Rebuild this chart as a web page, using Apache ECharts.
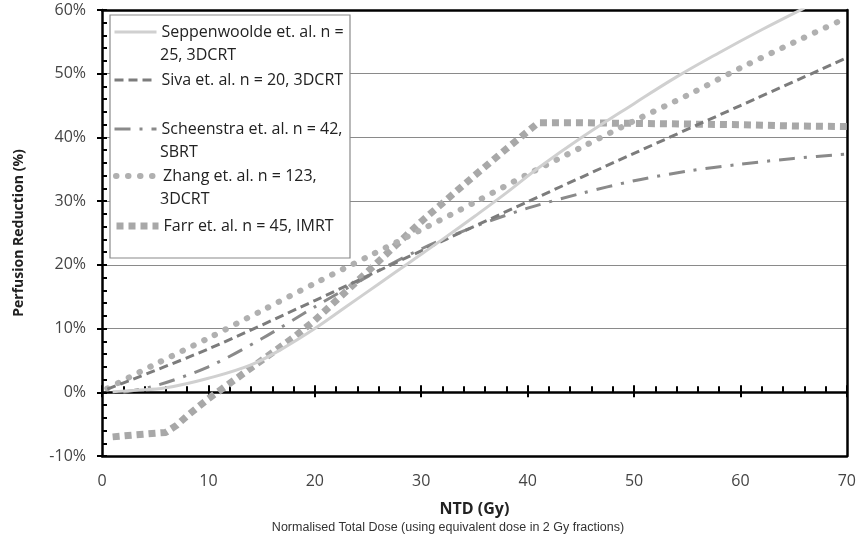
<!DOCTYPE html>
<html>
<head>
<meta charset="utf-8">
<script src="https://cdn.jsdelivr.net/npm/echarts@6/dist/echarts.min.js"></script>
<style>
  html, body { margin:0; padding:0; background:#fff; }
  #chart { width:859px; height:542px; }
</style>
</head>
<body>
<div id="chart"></div>
<script>
// --- series names (legend text, second line after \n) ---
const names = [
  'Seppenwoolde et. al. n =\n25, 3DCRT',
  'Siva et. al. n = 20, 3DCRT',
  'Scheenstra et. al. n = 42,\nSBRT',
  'Zhang et. al. n = 123,\n3DCRT',
  'Farr et. al. n = 45, IMRT'
]

// --- values: NTD (Gy) / perfusion reduction (%) ---
const seppX = [1, 3, 6, 10, 14, 17, 20, 23, 26, 29, 32, 35, 38, 41, 45, 50, 54, 58, 62, 66]
const seppY = [0.1, 0.3, 0.7, 2.2, 4.3, 6.9, 10, 13.5, 17, 20.5, 24, 27.6, 31.3, 35.2, 39.9, 45.3, 49.5, 53.3, 56.9, 60.3]

const sivaX = [0.5, 10, 20, 30, 40, 50, 60, 70]
const sivaY = [0.5, 6.8, 14.4, 22.2, 29.9, 37.5, 45.0, 52.5]

const scheX = [2, 5, 10, 15, 20, 25, 30, 35, 40, 45, 50, 55, 60, 65, 70]
const scheY = [0, 1.0, 4.0, 8.4, 13.4, 18.2, 22.5, 26.0, 28.9, 31.2, 33.2, 34.7, 35.8, 36.7, 37.4]

const zhangX = [0.5, 5, 10, 15, 20, 25, 30, 35, 40, 45, 50, 55, 60, 65, 70]
const zhangY = [0.6, 4.4, 8.5, 12.8, 17.1, 21.3, 25.5, 29.8, 34.2, 38.4, 42.6, 46.6, 50.9, 54.9, 58.8]

const farrX = [1, 3, 6, 7, 8, 10, 12, 15, 18, 20, 25, 30, 35, 38, 41, 45, 50, 55, 60, 65, 70]
const farrY = [-7, -6.7, -6.3, -5.2, -3.7, -1, 1.4, 5.0, 8.6, 11.3, 19, 26.8, 34, 38.2, 42.3, 42.3, 42.2, 42.1, 42, 41.8, 41.7]

// --- axis ticks ---
const xTicks = { min: 0, max: 70, step: 10 }
const yTicks = { min: -10, max: 60, step: 10 }

const pairs = (xs, ys) => xs.map((x, i) => [x, ys[i]])

const FONT = '"Open Sans", "Noto Sans", sans-serif'

// 线型
const styles = [
  { color:'#d0d0d0', width:3, type:'solid', cap:'butt', smooth:0.4 },
  { color:'#7c7c7c', width:3, type:[9, 5], cap:'butt', smooth:0.3 },
  { color:'#8a8a8a', width:3, type:[16, 9, 3, 9], cap:'butt', smooth:0.3 },
  { color:'#b0b0b0', width:6, type:[0.5, 11.5], cap:'round', smooth:0.3 },
  { color:'#a8a8a8', width:7, type:[7, 5], cap:'butt', smooth:0 }
]
const dataSets = [
  pairs(seppX, seppY), pairs(sivaX, sivaY), pairs(scheX, scheY),
  pairs(zhangX, zhangY), pairs(farrX, farrY)
]

// legend row centre (first line), px
const legendY = [32, 80, 129, 176, 226]
const LINE_H = 23

const chart = echarts.init(document.getElementById('chart'))

const baseX = { type:'value', min:xTicks.min, max:xTicks.max, interval:xTicks.step, gridIndex:0 }
const baseY = { type:'value', min:yTicks.min, max:yTicks.max, interval:yTicks.step, gridIndex:0 }

// second lines of the legend names
const secondLines = names
  .map((n, i) => ({ parts: n.split('\n'), i }))
  .filter(o => o.parts.length > 1)
  .map(o => ({
    type:'text', z:5, x:160, y:legendY[o.i] + LINE_H,
    style:{ text:o.parts[1], fill:'#222', font:'16px ' + FONT, textVerticalAlign:'middle' }
  }))

chart.setOption({
  animation: false,
  grid: { left:102, right:11, top:10, bottom:86 },
  xAxis: [
    // bottom frame + labels
    { ...baseX, position:'bottom',
      axisLine:{ onZero:false, lineStyle:{ color:'#000', width:2.5 } },
      axisTick:{ show:false },
      axisLabel:{ color:'#444', fontSize:16, margin:17, fontFamily:FONT },
      splitLine:{ show:false },
      name:'NTD (Gy)', nameLocation:'middle', nameGap:45,
      nameTextStyle:{ color:'#222', fontSize:16, fontWeight:'bold', fontFamily:FONT }
    },
    // axis at zero, ticks upward + minor ticks
    { ...baseX, position:'bottom',
      axisLine:{ onZero:true, lineStyle:{ color:'#000', width:2.5 } },
      axisTick:{ show:true, inside:true, length:7, lineStyle:{ color:'#000', width:2 } },
      minorTick:{ show:true, splitNumber:5, length:6, lineStyle:{ color:'#000', width:2 } },
      axisLabel:{ show:false }, splitLine:{ show:false }
    },
    // major ticks downward at zero
    { ...baseX, position:'bottom',
      axisLine:{ show:false, onZero:true },
      axisTick:{ show:true, inside:false, length:5, lineStyle:{ color:'#000', width:2 } },
      axisLabel:{ show:false }, splitLine:{ show:false }
    },
    // top frame
    { ...baseX, position:'top',
      axisLine:{ onZero:false, lineStyle:{ color:'#000', width:2.5 } },
      axisTick:{ show:false }, axisLabel:{ show:false }, splitLine:{ show:false }
    }
  ],
  yAxis: [
    { ...baseY, position:'left',
      axisLine:{ onZero:false, lineStyle:{ color:'#000', width:2.5 } },
      axisTick:{ show:true, inside:true, length:5, lineStyle:{ color:'#000', width:2 } },
      minorTick:{ show:true, splitNumber:5, length:5, lineStyle:{ color:'#000', width:2 } },
      axisLabel:{ color:'#444', fontSize:16, margin:16, fontFamily:FONT, formatter:'{value}%' },
      splitLine:{ show:true, lineStyle:{ color:'#8a8a8a', width:1.2 } },
      name:'Perfusion Reduction (%)', nameLocation:'middle', nameGap:76,
      nameTextStyle:{ color:'#222', fontSize:14, fontWeight:'bold', fontFamily:FONT }
    },
    { ...baseY, position:'left',
      axisLine:{ show:false, onZero:false },
      axisTick:{ show:true, inside:false, length:5, lineStyle:{ color:'#000', width:2 } },
      axisLabel:{ show:false }, splitLine:{ show:false }
    },
    { ...baseY, position:'right',
      axisLine:{ onZero:false, lineStyle:{ color:'#000', width:2.5 } },
      axisTick:{ show:false }, axisLabel:{ show:false }, splitLine:{ show:false }
    }
  ],
  legend: names.map((n, i) => ({
    data:[n], left:113, top:legendY[i] - LINE_H / 2,
    padding:0, itemWidth:42, itemHeight:12, itemGap:0,
    selectedMode:false,
    itemStyle:{ color:'rgba(0,0,0,0)', borderColor:'rgba(0,0,0,0)', borderWidth:0 },
    lineStyle:{ color:styles[i].color, width:styles[i].width, type:styles[i].type, cap:styles[i].cap },
    formatter: name => name.split('\n')[0],
    textStyle:{ color:'#222', fontSize:16, lineHeight:LINE_H, fontFamily:FONT }
  })),
  graphic: [
    { type:'rect', z:1, shape:{ x:110, y:15, width:240, height:243 },
      style:{ fill:'#fff', stroke:'#8a8a8a', lineWidth:1.2 } },
    { type:'text', x:448, y:528,
      style:{ text:'Normalised Total Dose (using equivalent dose in 2 Gy fractions)',
              fill:'#333', textAlign:'center', textVerticalAlign:'middle',
              font:'12.5px "Liberation Sans Narrow", "Liberation Sans", sans-serif' } },
    ...secondLines
  ],
  series: names.map((n, i) => ({
    name:n, type:'line', xAxisIndex:0, yAxisIndex:0,
    data:dataSets[i], symbol:'none', smooth:styles[i].smooth,
    z: 3 + (4 - i),
    lineStyle:{ color:styles[i].color, width:styles[i].width, type:styles[i].type, cap:styles[i].cap },
    itemStyle:{ color:styles[i].color }
  }))
})
</script>
</body>
</html>
